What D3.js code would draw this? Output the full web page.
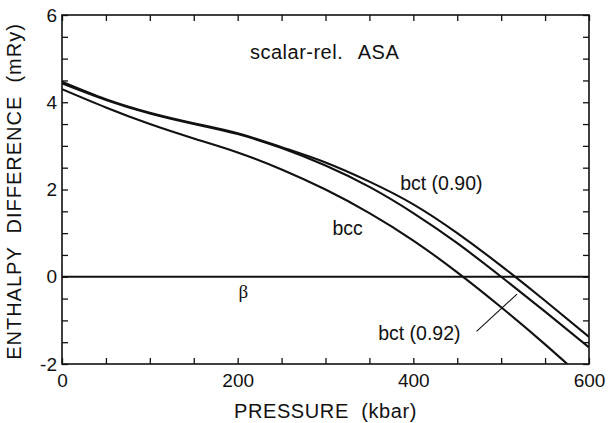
<!DOCTYPE html>
<html>
<head>
<meta charset="utf-8">
<script src="https://cdn.jsdelivr.net/npm/d3@7"></script>
<style>
    body { margin: 0; background: #fff; }
    text { font-family: "Liberation Sans", Arial, Helvetica, sans-serif; fill: #111; }
</style>
</head>
<body>
<div id="chart"></div>
<script>
// pressure grid (kbar) and enthalpy differences (mRy)
var pressure = [0, 50, 100, 150, 200, 250, 300, 350, 400, 450, 500, 550, 600];
var bccValues = [4.30, 3.88, 3.50, 3.17, 2.85, 2.46, 2.00, 1.46, 0.83, 0.10, -0.70, -1.55, -2.45];
var bct090Values = [4.47, 4.07, 3.76, 3.52, 3.29, 2.97, 2.62, 2.18, 1.66, 1.00, 0.25, -0.55, -1.38];
var bct092Values = [4.43, 4.05, 3.74, 3.50, 3.27, 2.95, 2.55, 2.06, 1.46, 0.77, 0.00, -0.80, -1.62];
var betaLevel = [0, 0];
var betaRange = [0, 600];

var xTickLabels = [0, 200, 400, 600];
var xMinorTicks = d3.range(0, 601, 50);
var yTickLabels = [-2, 0, 2, 4, 6];
var yMinorTicks = d3.range(-2, 6.01, 0.5);

var w = 610, h = 423;
var margin = {left: 62, top: 15, right: 21, bottom: 59};
var iw = w - margin.left - margin.right;
var ih = h - margin.top - margin.bottom;

var x = d3.scaleLinear().domain([0, 600]).range([0, iw]);
var y = d3.scaleLinear().domain([-2, 6]).range([ih, 0]);

var svg = d3.select("#chart").append("svg")
    .attr("width", w)
    .attr("height", h);

svg.append("defs").append("clipPath")
    .attr("id", "plotclip")
    .append("rect")
    .attr("width", iw)
    .attr("height", ih);

var g = svg.append("g")
    .attr("transform", "translate(" + margin.left + "," + margin.top + ")");

// ticks on all four sides, pointing inward
function addAxis(axis, tr) {
    var a = g.append("g").attr("transform", tr).call(axis);
    a.select(".domain").remove();
    a.selectAll("line").attr("stroke", "#111").attr("stroke-width", 1.3);
    return a;
}
addAxis(d3.axisBottom(x).tickValues(xMinorTicks).tickSize(-6).tickFormat(""), "translate(0," + ih + ")");
addAxis(d3.axisTop(x).tickValues(xMinorTicks).tickSize(-6).tickFormat(""), "translate(0,0)");
addAxis(d3.axisLeft(y).tickValues(yMinorTicks).tickSize(-6).tickFormat(""), "translate(0,0)");
addAxis(d3.axisRight(y).tickValues(yMinorTicks).tickSize(-6).tickFormat(""), "translate(" + iw + ",0)");

var xl = addAxis(d3.axisBottom(x).tickValues(xTickLabels).tickSize(0).tickPadding(10).tickFormat(d3.format("d")), "translate(0," + ih + ")");
xl.selectAll("text").style("font-size", "19px").attr("fill", "#111").style("font-family", "Liberation Sans, Arial, sans-serif");

var yl = addAxis(d3.axisLeft(y).tickValues(yTickLabels).tickSize(0).tickPadding(5).tickFormat(function (d) { return d < 0 ? "-" + Math.abs(d) : d; }), "translate(0,0)");
yl.selectAll("text").style("font-size", "19px").attr("fill", "#111").style("font-family", "Liberation Sans, Arial, sans-serif");

g.append("rect")
    .attr("width", iw)
    .attr("height", ih)
    .attr("fill", "none")
    .attr("stroke", "#111")
    .attr("stroke-width", 1.6);

// beta reference line
g.append("line")
    .attr("x1", x(betaRange[0]))
    .attr("x2", x(betaRange[1]))
    .attr("y1", y(betaLevel[0]))
    .attr("y2", y(betaLevel[1]))
    .attr("stroke", "#111")
    .attr("stroke-width", 1.8);

var line = d3.line()
    .x(function (d) { return x(d[0]); })
    .y(function (d) { return y(d[1]); })
    .curve(d3.curveNatural);

var curves = g.append("g").attr("clip-path", "url(#plotclip)");
[bccValues, bct090Values, bct092Values].forEach(function (vals) {
    curves.append("path")
        .datum(d3.zip(pressure, vals))
        .attr("d", line)
        .attr("fill", "none")
        .attr("stroke", "#111")
        .attr("stroke-width", 2.1)
        .attr("stroke-linejoin", "round");
});

// labels
function label(txt, px, val, size, family) {
    return g.append("text")
        .attr("x", x(px))
        .attr("y", y(val))
        .style("font-size", size + "px")
        .style("font-family", family || null)
        .text(txt);
}
label("scalar-rel.", 214, 4.98, 20).style("letter-spacing", "0.5px");
label("ASA", 384, 4.98, 20).attr("text-anchor", "end").style("letter-spacing", "0.5px");
label("bct (0.90)", 385, 1.98, 19.5);
label("bcc", 308, 0.96, 19.5);
label("bct (0.92)", 360, -1.44, 19.5);
label("\u03b2", 201, -0.49, 19, "Liberation Serif, Times New Roman, serif");

// pointer from bct(0.92) label to its curve
g.append("line")
    .attr("x1", x(472))
    .attr("y1", y(-1.25))
    .attr("x2", x(518))
    .attr("y2", y(-0.40))
    .attr("stroke", "#111")
    .attr("stroke-width", 1.1);

svg.append("text")
    .attr("x", margin.left + iw / 2)
    .attr("y", 418)
    .attr("text-anchor", "middle")
    .style("font-size", "20px")
    .style("letter-spacing", "0.6px")
    .style("white-space", "pre")
    .text("PRESSURE  (kbar)");

svg.append("text")
    .attr("transform", "translate(21," + (margin.top + ih / 2 + 2) + ")rotate(-90)")
    .attr("text-anchor", "middle")
    .style("font-size", "20px")
    .style("letter-spacing", "1px")
    .style("white-space", "pre")
    .text("ENTHALPY  DIFFERENCE  (mRy)");
</script>
</body>
</html>
